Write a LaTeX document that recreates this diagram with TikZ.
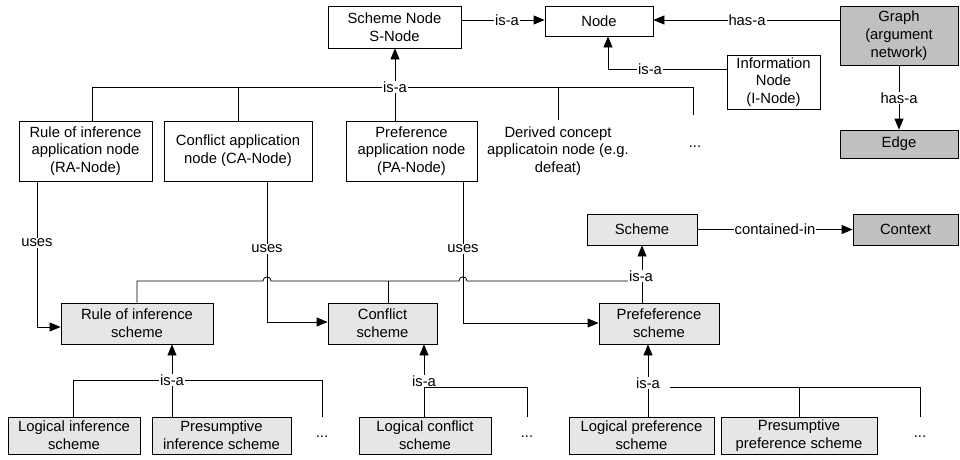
\documentclass[tikz,border=0pt]{standalone}
\usepackage{fontspec}
\setmainfont{Liberation Sans}
\usetikzlibrary{arrows.meta}
\definecolor{lightfill}{HTML}{E6E6E6}
\definecolor{darkfill}{HTML}{C0C0C0}
\begin{document}
\begin{tikzpicture}[x=1pt,y=-1pt,
  every node/.style={font=\fontsize{14.8}{17.7}\selectfont},
  box/.style={draw, line width=0.8pt, inner sep=0pt, align=center},
  lbox/.style={box, fill=lightfill},
  dbox/.style={box, fill=darkfill},
  plain/.style={inner sep=0pt, align=center},
  conn/.style={line width=0.8pt},
  arr/.style={conn, -{Triangle[length=11pt,width=9pt]}},
  lab/.style={fill=white, inner sep=1pt}]
\useasboundingbox (0,0) rectangle (960,459);
% top row
\node[box, minimum width=133pt, minimum height=42pt] (sn) at (394.5,27) {Scheme Node\\S-Node};
\node[box, minimum width=108pt, minimum height=30pt] (nd) at (599,21) {Node};
\node[dbox, minimum width=118pt, minimum height=59pt] (gr) at (899,35.5) {Graph\\(argument\\network)};
\node[box, minimum width=93pt, minimum height=54pt] (in) at (773.5,82) {Information\\Node\\(I-Node)};
\node[dbox, minimum width=118pt, minimum height=28pt] (ed) at (899,144) {Edge};
% application nodes
\node[box, minimum width=133pt, minimum height=60pt] (ra) at (85.5,151) {Rule of inference\\application node\\(RA-Node)};
\node[box, minimum width=148pt, minimum height=60pt] (ca) at (238,151) {Conflict application\\node (CA-Node)};
\node[box, minimum width=131pt, minimum height=60pt] (pa) at (411.5,151) {Preference\\application node\\(PA-Node)};
\node[plain] (dc) at (558,151) {Derived concept\\applicatoin node (e.g.\\defeat)};
\node[plain] (d1) at (695,147) {...};
% schemes
\node[lbox, minimum width=110pt, minimum height=31pt] (sc) at (642,229.5) {Scheme};
\node[dbox, minimum width=105pt, minimum height=31pt] (cx) at (905.5,229.5) {Context};
\node[lbox, minimum width=152pt, minimum height=41pt] (rs) at (137,323.5) {Rule of inference\\scheme};
\node[lbox, minimum width=109pt, minimum height=41pt] (cs) at (382.5,323.5) {Conflict\\scheme};
\node[lbox, minimum width=120pt, minimum height=41pt] (ps) at (659,323.5) {Prefeference\\scheme};
% bottom row
\node[lbox, minimum width=132pt, minimum height=37pt] (li) at (74,435.5) {Logical inference\\scheme};
\node[lbox, minimum width=139pt, minimum height=37pt] (pi) at (221.5,435.5) {Presumptive\\inference scheme};
\node[lbox, minimum width=132pt, minimum height=37pt] (lc) at (425,435.5) {Logical conflict\\scheme};
\node[lbox, minimum width=145pt, minimum height=37pt] (lp) at (641.5,435.5) {Logical preference\\scheme};
\node[lbox, minimum width=156pt, minimum height=37pt] (pp) at (799,435.5) {Presumptive\\preference scheme};
\node[plain] (d2) at (322,437) {...};
\node[plain] (d3) at (527,437) {...};
\node[plain] (d4) at (920,437) {...};

% coordinates
\coordinate (t1) at (395,87);
\coordinate (tl) at (92,87);
\coordinate (tr) at (693,87);
\coordinate (tca) at (238,87);
\coordinate (tdc) at (558,87);
\coordinate (ic) at (608,69);
\coordinate (u1) at (37,327);
\coordinate (u2) at (267,322);
\coordinate (u3) at (463,323);
\coordinate (h1) at (137,281);
\coordinate (h2) at (388,281);
\coordinate (h3) at (642,281);
\coordinate (b1) at (172,380);
\coordinate (b1l) at (73,380);
\coordinate (b1r) at (322,380);
\coordinate (b2) at (424,381);
\coordinate (b2h) at (424,387);
\coordinate (b2r) at (527,387);
\coordinate (b3) at (648,383);
\coordinate (b3h) at (648,387);
\coordinate (b3m) at (799,387);
\coordinate (b3r) at (920,387);

% connectors top
\draw[arr] (sn.east |- 0,20) -- (nd.west |- 0,20);
\draw[arr] (gr.west |- 0,20) -- (nd.east |- 0,20);
\draw[arr] (in.west |- ic) -- (ic) -- (ic |- nd.south);
\draw[arr] (gr.south) -- (ed.north);
\draw[arr] (t1) -- (t1 |- sn.south);
\draw[conn] (tl |- ra.north) -- (tl) -- (tr) -- (693,115);
\draw[conn] (tca) -- (tca |- ca.north);
\draw[conn] (t1) -- (t1 |- pa.north);
\draw[conn] (tdc) -- (558,120);
% uses
\draw[arr] (ra.south -| u1) -- (u1) -- (u1 -| rs.west);
\draw[arr] (ca.south -| u2) -- (u2) -- (u2 -| cs.west);
\draw[arr] (pa.south -| u3) -- (u3) -- (u3 -| ps.west);
% scheme is-a horizontal with hops
\draw[conn] (rs.north -| h1) -- (h1) -- (263,281) .. controls (263,275.5) and (271,275.5) .. (271,281)
   -- (459,281) .. controls (459,275.5) and (467,275.5) .. (467,281) -- (h3);
\draw[conn] (h2) -- (h2 |- cs.north);
\draw[arr] (h3 |- ps.north) -- (h3 |- sc.south);
\draw[arr] (sc.east) -- (cx.west);
% bottom is-a
\draw[arr] (b1) -- (b1 |- rs.south);
\draw[conn] (b1l |- li.north) -- (b1l) -- (b1r) -- (322,417);
\draw[conn] (b1) -- (b1 |- pi.north);
\draw[arr] (b2) -- (b2 |- cs.south);
\draw[conn] (b2) -- (b2 |- lc.north);
\draw[conn] (b2h) -- (b2r) -- (527,417);
\draw[arr] (b3) -- (b3 |- ps.south);
\draw[conn] (b3) -- (b3 |- lp.north);
\draw[conn] (670,387) -- (b3r) -- (920,417);
\draw[conn] (b3m) -- (b3m |- pp.north);

% labels
\node[lab] (l1) at (507,20) {is-a};
\node[lab] (l2) at (747,20) {has-a};
\node[lab] (l3) at (650,69) {is-a};
\node[lab] (l4) at (899,98) {has-a};
\node[lab] (l5) at (t1) {is-a};
\node[lab] (l6) at (37,243) {uses};
\node[lab] (l7) at (267,249) {uses};
\node[lab] (l8) at (463,249) {uses};
\node[lab] (l9) at (641,276) {is-a};
\node[lab] (l10) at (775,229) {contained-in};
\node[lab] (l11) at (b1) {is-a};
\node[lab] (l12) at (b2) {is-a};
\node[lab] (l13) at (b3) {is-a};
\end{tikzpicture}
\end{document}
